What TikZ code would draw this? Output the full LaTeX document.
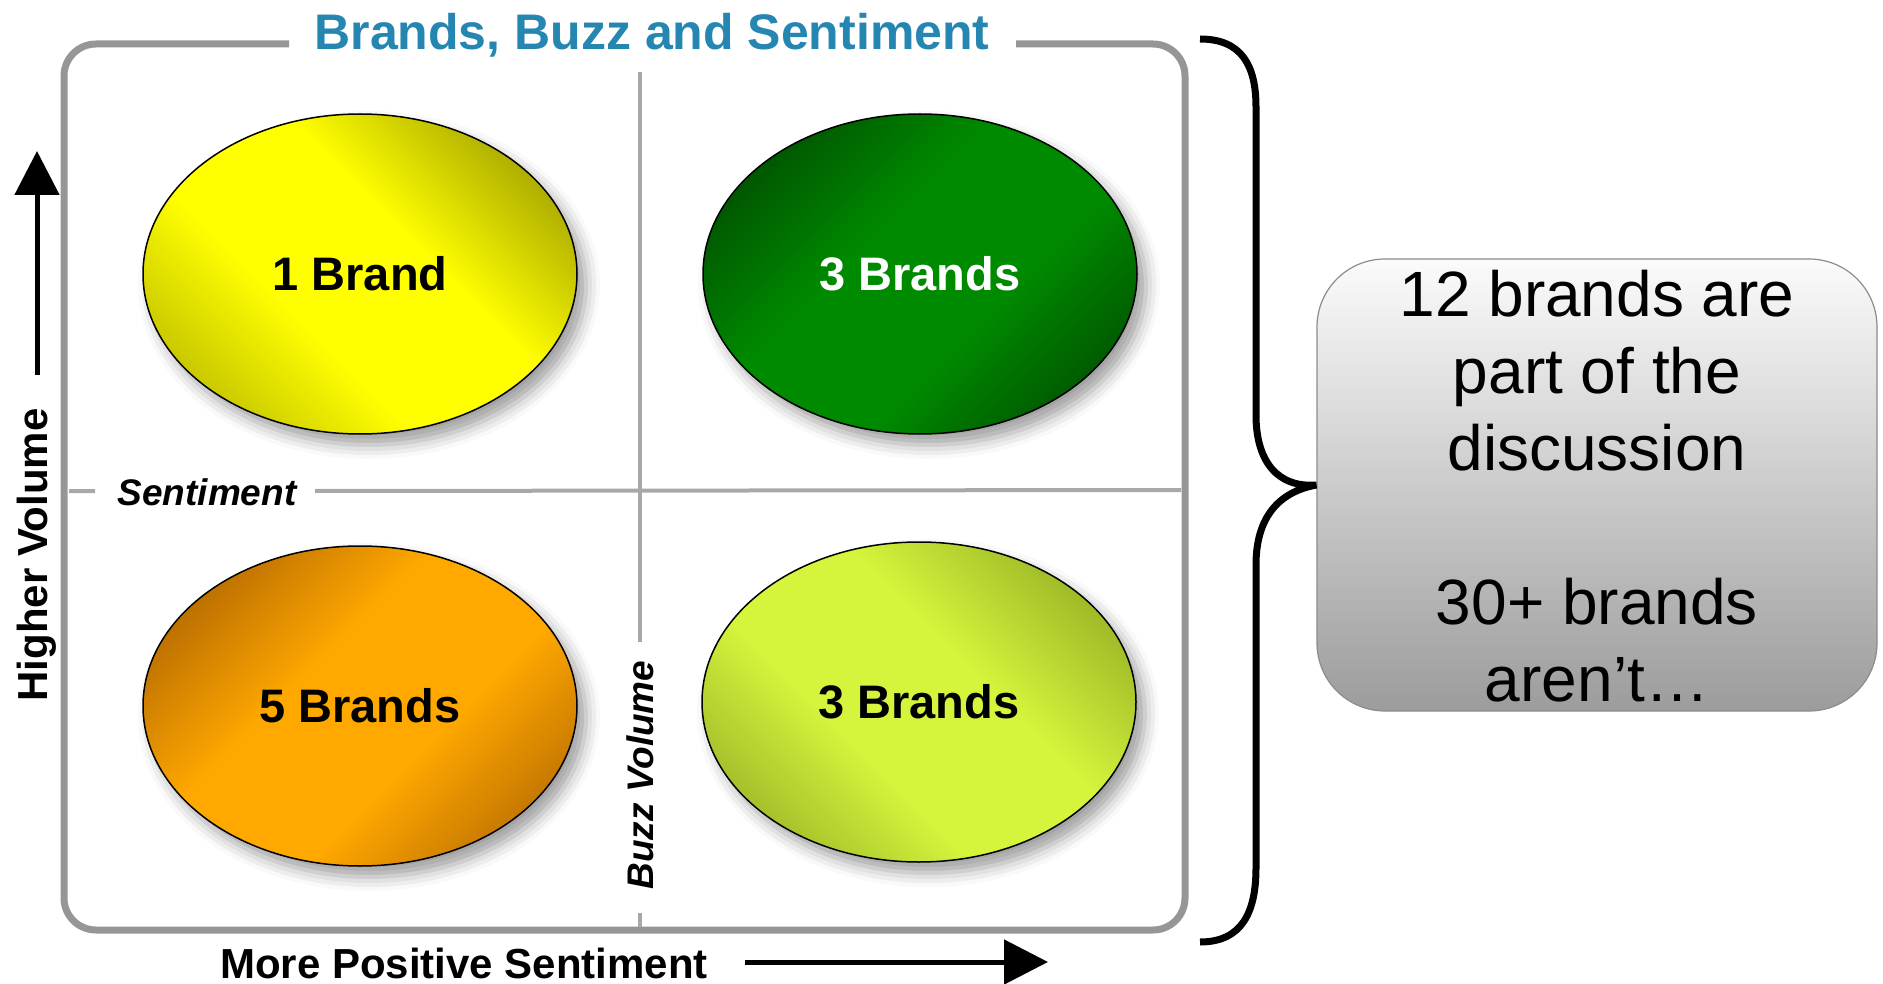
\documentclass[tikz,border=0pt]{standalone}
\usepackage{fontspec}
\setmainfont{Liberation Sans}
\usetikzlibrary{arrows.meta,shapes.geometric,shadows.blur}

% palette
\definecolor{titleblue}{RGB}{38,134,178}
\definecolor{framegray}{RGB}{150,150,150}
\definecolor{axisgray}{RGB}{168,168,168}
\definecolor{boxline}{RGB}{140,140,140}
\definecolor{boxtop}{RGB}{251,251,251}
\definecolor{boxbottom}{RGB}{156,156,156}

% ball colours: edge at top side, middle band, edge at bottom side
\definecolor{yEdgeA}{RGB}{176,176,0}
\definecolor{yMid}{RGB}{255,255,0}
\definecolor{yEdgeB}{RGB}{202,202,0}
\definecolor{gEdgeA}{RGB}{0,88,0}
\definecolor{gMid}{RGB}{0,138,0}
\definecolor{gEdgeB}{RGB}{0,92,0}
\definecolor{oEdgeA}{RGB}{190,114,0}
\definecolor{oMid}{RGB}{255,168,0}
\definecolor{oEdgeB}{RGB}{200,122,0}
\definecolor{lEdgeA}{RGB}{160,188,40}
\definecolor{lMid}{RGB}{212,245,60}
\definecolor{lEdgeB}{RGB}{166,194,44}

% three-stop diagonal shading for the balls
\newcommand\ballshade[4]{%
  \pgfdeclareverticalshading{#1}{100bp}{%
    color(0bp)=(#4); color(25bp)=(#4); color(40bp)=(#3);
    color(58bp)=(#3); color(75bp)=(#2); color(100bp)=(#2)}}
\ballshade{yellowball}{yEdgeA}{yMid}{yEdgeB}
\ballshade{greenball}{gEdgeA}{gMid}{gEdgeB}
\ballshade{orangeball}{oEdgeA}{oMid}{oEdgeB}
\ballshade{limeball}{lEdgeA}{lMid}{lEdgeB}

\tikzset{
  frame/.style={draw=framegray, line width=7pt, rounded corners=32pt},
  axisline/.style={draw=axisgray, line width=4pt},
  axisarrow/.style={draw=black, line width=5pt, -{Triangle[length=44pt,width=44pt]}},
  bracestroke/.style={draw=black, line width=7pt},
  ball/.style={ellipse, draw=black, line width=1.5pt, shade,
    minimum width=434pt, minimum height=320pt, inner sep=0pt,
    font=\fontsize{47}{56}\selectfont\bfseries,
    blur shadow={shadow xshift=9pt, shadow yshift=-11pt,
      shadow blur radius=14pt, shadow opacity=38}},
  titlelabel/.style={text=titleblue, inner sep=0pt,
    font=\fontsize{50}{60}\selectfont\bfseries},
  quadlabel/.style={inner sep=0pt, font=\fontsize{37}{44}\selectfont\bfseries\itshape},
  sidelabel/.style={inner sep=0pt, font=\fontsize{42}{50}\selectfont\bfseries},
  summary/.style={draw=boxline, line width=1.2pt, rounded corners=68pt,
    top color=boxtop, bottom color=boxbottom,
    minimum width=560pt, minimum height=452pt, inner sep=0pt},
  summarytext/.style={inner sep=0pt, align=center,
    font=\fontsize{64}{77}\selectfont}
}

\begin{document}
\begin{tikzpicture}[x=1pt, y=-1pt]
\useasboundingbox (0,0) rectangle (1883,984);

% outer frame, open at the top for the heading
\draw[frame] (289,44) -- (64,44) -- (64,930) -- (1185,930) -- (1185,44) -- (1016,44);
\node[titlelabel, anchor=base] (title) at (652,50) {Brands, Buzz and Sentiment};

% quadrant axes with their labels
\node[quadlabel, anchor=base] (sentiment) at (207,505) {Sentiment};
\node[quadlabel, rotate=90, anchor=base] (buzz) at (653,775) {Buzz Volume};
\draw[axisline] (69,491) -- (95,491) (315,491) -- (1181,490);
\draw[axisline] (640,72) -- (640,642) (640,913) -- (640,927);

% the four quadrant balls
\node[ball, shading=yellowball, shading angle=-45] (q1) at (360,274) {1 Brand};
\node[ball, shading=greenball, shading angle=45, text=white] (q2) at (920,274) {3 Brands};
\node[ball, shading=orangeball, shading angle=45] (q3) at (360,706) {5 Brands};
\node[ball, shading=limeball, shading angle=-45] (q4) at (919,702) {3 Brands};

% vertical direction
\node[sidelabel, rotate=90, anchor=base] (higher) at (47,555) {Higher Volume};
\coordinate (upfrom) at (37,375);
\coordinate (upto) at (37,151);
\draw[axisarrow] (upfrom) -- (upto);

% horizontal direction
\node[sidelabel, anchor=base] (positive) at (464,978) {More Positive Sentiment};
\coordinate (rightfrom) at (745,962);
\coordinate (rightto) at (1048,962);
\draw[axisarrow] (rightfrom) -- (rightto);

% summary box
\node[summary] (summary) at (1597,485) {};
\node[summarytext, anchor=north] (summarytext) at (1597,270)
  {12 brands are\\part of the\\discussion\\[77pt]30+ brands\\aren’t…};

% brace joining the matrix to the summary
\coordinate (bracetop) at (1200,39);
\coordinate (bracebottom) at (1200,942);
\draw[bracestroke] (bracetop) .. controls (1242,39) and (1256,66) .. (1256,107)
  -- (1256,415) .. controls (1256,462) and (1278,488) .. (summary.west)
  .. controls (1278,492) and (1256,518) .. (1256,565)
  -- (1256,868) .. controls (1256,912) and (1242,942) .. (bracebottom);
\end{tikzpicture}
\end{document}
